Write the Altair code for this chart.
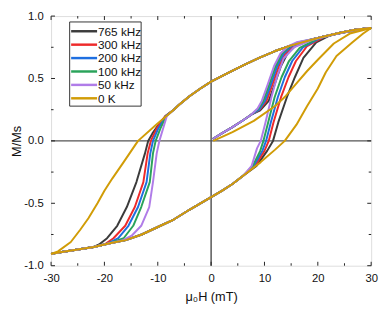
import altair as alt
import pandas as pd

SERIES = ["765 kHz", "300 kHz", "200 kHz", "100 kHz", "50 kHz", "0 K"]
COLORS = ["#3b3b3b", "#ee2a2a", "#1f6fe0", "#2aa35a", "#b07ce8", "#d19c06"]

# shared parts of the loop (mu0H in mT, M/Ms)
DESC_TOP_H = [30, 27, 24, 21, 18, 15, 12, 9, 6, 3, 0, -2, -4, -6, -7]
DESC_TOP_M = [0.905, 0.89, 0.865, 0.835, 0.80, 0.765, 0.72, 0.665, 0.605, 0.54, 0.475, 0.42, 0.36, 0.29, 0.25]
DESC_TAIL_H = [-22, -25, -28, -30]
DESC_TAIL_M = [-0.85, -0.87, -0.89, -0.905]
ASC_BOT_H = [-30, -28, -25, -22, -19, -16, -13, -10, -7, -4, -2, 0, 2, 4, 6]
ASC_BOT_M = [-0.905, -0.89, -0.87, -0.85, -0.82, -0.795, -0.75, -0.69, -0.63, -0.55, -0.50, -0.45, -0.40, -0.345, -0.28]
ASC_TAIL_H = [24, 27, 30]
ASC_TAIL_M = [0.865, 0.89, 0.905]
VIR_START_H = [0.3, 2, 4, 6, 7.5]
VIR_START_M = [0.015, 0.06, 0.11, 0.165, 0.21]
VIR_TAIL_H = [19, 22, 25, 28, 30]
VIR_TAIL_M = [0.815, 0.845, 0.87, 0.895, 0.905]

# series-specific steep parts
DESC_STEEP = {
    "765 kHz": ([-8.5, -10, -11, -11.8, -12.4, -14, -15.8, -17.6, -19.5, -21], [0.2, 0.12, 0.06, 0, -0.1, -0.33, -0.53, -0.68, -0.78, -0.83]),
    "300 kHz": ([-8.6, -10.2, -11.3, -11.9, -12.7, -14.3, -16.1, -18.3, -20], [0.2, 0.1, 0, -0.1, -0.33, -0.53, -0.68, -0.78, -0.83]),
    "200 kHz": ([-8.5, -9.9, -10.9, -11.4, -12.1, -13.7, -15.5, -17.4, -19.5], [0.2, 0.1, 0, -0.1, -0.33, -0.53, -0.68, -0.78, -0.825]),
    "100 kHz": ([-8.4, -9.5, -10.4, -10.9, -11.5, -13.1, -14.6, -16.4, -19], [0.2, 0.1, 0, -0.1, -0.33, -0.53, -0.68, -0.78, -0.82]),
    "50 kHz": ([-8.3, -9.0, -9.7, -10.2, -10.9, -11.6, -13.1, -14.9, -16.5, -19], [0.2, 0.1, 0, -0.1, -0.33, -0.53, -0.68, -0.76, -0.795, -0.82]),
}
ASC_STEEP = {
    "765 kHz": ([8.5, 10.5, 11.6, 12.6, 14.2, 15.7, 17.3, 19.7, 22], [-0.2, -0.08, 0, 0.15, 0.35, 0.51, 0.665, 0.79, 0.84]),
    "300 kHz": ([8.2, 10, 10.8, 11.7, 13.1, 14.5, 15.9, 18, 21], [-0.2, -0.08, 0, 0.15, 0.35, 0.51, 0.64, 0.76, 0.83]),
    "200 kHz": ([8, 9.6, 10.3, 11.2, 12.5, 13.8, 15.2, 17.2, 20.5], [-0.2, -0.08, 0, 0.15, 0.35, 0.51, 0.64, 0.75, 0.825]),
    "100 kHz": ([7.8, 9.2, 9.8, 10.7, 11.9, 13.2, 14.6, 16.6, 20], [-0.2, -0.08, 0, 0.15, 0.35, 0.51, 0.64, 0.745, 0.82]),
    "50 kHz": ([7.6, 8.6, 9.3, 10.2, 11.3, 12.4, 13.6, 15.5, 19], [-0.2, -0.06, 0, 0.15, 0.35, 0.52, 0.66, 0.75, 0.81]),
}
VIR_STEEP = {
    "765 kHz": ([9.2, 10.8, 11.8, 13.1, 14.3, 15.8, 17.6], [0.245, 0.32, 0.44, 0.6, 0.7, 0.76, 0.79]),
    "300 kHz": ([9.1, 10.4, 11.4, 12.7, 13.9, 15.4, 17.2], [0.25, 0.32, 0.44, 0.6, 0.7, 0.76, 0.79]),
    "200 kHz": ([9.0, 10.1, 11.1, 12.4, 13.6, 15.1, 16.8], [0.25, 0.32, 0.44, 0.6, 0.7, 0.76, 0.79]),
    "100 kHz": ([8.9, 9.8, 10.8, 12.1, 13.3, 14.8, 16.4], [0.26, 0.32, 0.44, 0.6, 0.7, 0.76, 0.79]),
    "50 kHz": ([8.7, 9.5, 10.5, 11.8, 13.0, 14.5, 16.0], [0.26, 0.32, 0.44, 0.6, 0.7, 0.76, 0.79]),
}

# 0 K curve
GOLD_VIR_H = [0.4, 4, 8, 12, 14, 16, 18, 20, 23, 26, 30]
GOLD_VIR_M = [0.0, 0.07, 0.16, 0.28, 0.36, 0.46, 0.56, 0.65, 0.78, 0.86, 0.905]
GOLD_DESC_H = [-10.3, -13.7, -16.4, -18.5, -20, -21.3, -23, -24.5, -26.3, -28.7, -30]
GOLD_DESC_M = [0.13, 0.0, -0.17, -0.3, -0.4, -0.5, -0.62, -0.71, -0.81, -0.885, -0.905]
GOLD_ASC_H = [9.3, 12, 13.8, 16, 18, 20, 21.5, 23.5, 26.5, 28.5, 30]
GOLD_ASC_M = [-0.17, -0.07, 0.0, 0.13, 0.28, 0.42, 0.55, 0.68, 0.79, 0.86, 0.905]

X_MAJOR = [-30, -20, -10, 0, 10, 20, 30]
X_MINOR = [-25, -15, -5, 5, 15, 25]
Y_MAJOR = [-1.0, -0.5, 0.0, 0.5, 1.0]
Y_MINOR = [-0.75, -0.25, 0.25, 0.75]

rows = []


def add(series, branch, hs, ms):
    for h, m in zip(hs, ms):
        rows.append({"series": series, "branch": series + "|" + branch, "i": len(rows), "H": h, "M": m})


for s in SERIES[:5]:
    add(s, "virgin", VIR_START_H + VIR_STEEP[s][0] + VIR_TAIL_H, VIR_START_M + VIR_STEEP[s][1] + VIR_TAIL_M)
    add(s, "desc", DESC_TOP_H + DESC_STEEP[s][0] + DESC_TAIL_H, DESC_TOP_M + DESC_STEEP[s][1] + DESC_TAIL_M)
    add(s, "asc", ASC_BOT_H + ASC_STEEP[s][0] + ASC_TAIL_H, ASC_BOT_M + ASC_STEEP[s][1] + ASC_TAIL_M)
add("0 K", "virgin", GOLD_VIR_H, GOLD_VIR_M)
add("0 K", "desc", DESC_TOP_H + GOLD_DESC_H, DESC_TOP_M + GOLD_DESC_M)
add("0 K", "asc", ASC_BOT_H + GOLD_ASC_H, ASC_BOT_M + GOLD_ASC_M)
df = pd.DataFrame(rows)

W, H = 327, 255
FONT = "Liberation Sans"

xs = alt.Scale(domain=[-30, 30], nice=False, zero=False)
ys = alt.Scale(domain=[-1, 1], nice=False, zero=False)

lines = alt.Chart(df).mark_line(strokeWidth=2, strokeJoin="round").encode(
    x=alt.X("H:Q", scale=xs, axis=alt.Axis(
        values=X_MAJOR, title="μ₀H (mT)", ticks=False, domain=False, grid=False, labelFlush=False,
        labelExpr="replace(format(datum.value, 'd'), '−', '-')",
        labelFontSize=11.5, labelPadding=7, labelColor="#111",
        titleFontSize=13, titleFontWeight="normal", titleColor="#111",
        titleY=36, titleBaseline="alphabetic")),
    y=alt.Y("M:Q", scale=ys, axis=alt.Axis(
        values=Y_MAJOR, title="M/Ms", ticks=False, domain=False, grid=False, labelFlush=False,
        labelExpr="replace(format(datum.value, '.1f'), '−', '-')",
        labelFontSize=11.5, labelPadding=8, labelColor="#111",
        titleFontSize=13, titleFontWeight="normal", titleColor="#111",
        titleX=-28, titleY=H / 2, titleAngle=-90, titleAlign="center", titleBaseline="bottom")),
    color=alt.Color("series:N", scale=alt.Scale(domain=SERIES, range=COLORS), legend=None),
    detail="branch:N",
    order="i:Q",
)

zero_v = alt.Chart(pd.DataFrame({"H": [0]})).mark_rule(color="#555", strokeWidth=1.5).encode(
    x=alt.X("H:Q", scale=xs))
zero_h = alt.Chart(pd.DataFrame({"M": [0]})).mark_rule(color="#555", strokeWidth=1.5).encode(
    y=alt.Y("M:Q", scale=ys))

tick_layers = []
for vals, ln in ((X_MAJOR, 4), (X_MINOR, 2.5)):
    d = pd.DataFrame({"H": vals})
    tick_layers.append(alt.Chart(d).mark_rule(color="#222", strokeWidth=1).encode(
        x=alt.X("H:Q", scale=xs), y=alt.value(H), y2=alt.value(H - ln)))
    tick_layers.append(alt.Chart(d).mark_rule(color="#222", strokeWidth=1).encode(
        x=alt.X("H:Q", scale=xs), y=alt.value(0), y2=alt.value(ln)))
for vals, ln in ((Y_MAJOR, 4), (Y_MINOR, 2.5)):
    d = pd.DataFrame({"M": vals})
    tick_layers.append(alt.Chart(d).mark_rule(color="#222", strokeWidth=1).encode(
        y=alt.Y("M:Q", scale=ys), x=alt.value(0), x2=alt.value(ln)))
    tick_layers.append(alt.Chart(d).mark_rule(color="#222", strokeWidth=1).encode(
        y=alt.Y("M:Q", scale=ys), x=alt.value(W), x2=alt.value(W - ln)))

# legend box drawn by hand (layout positions in pixels)
LEG_X0, LEG_X1, LEG_Y0, LEG_Y1 = 19, 92, 6, 92
LEG_ROW0, LEG_STEP = 15.5, 13.7
legend_layers = [
    alt.Chart(pd.DataFrame({"k": [0]})).mark_rect(fill="white", stroke="#333", strokeWidth=1).encode(
        x=alt.value(LEG_X0), x2=alt.value(LEG_X1), y=alt.value(LEG_Y0), y2=alt.value(LEG_Y1))
]
for k, (s, c) in enumerate(zip(SERIES, COLORS)):
    yy = LEG_ROW0 + k * LEG_STEP
    d = pd.DataFrame({"series": [s]})
    legend_layers.append(alt.Chart(d).mark_rule(color=c, strokeWidth=2.5).encode(
        x=alt.value(LEG_X0 + 1.5), x2=alt.value(LEG_X0 + 28), y=alt.value(yy)))
    legend_layers.append(alt.Chart(d).mark_text(align="left", baseline="middle", fontSize=12,
                                                font=FONT, color="#111").encode(
        x=alt.value(LEG_X0 + 29), y=alt.value(yy + 0.5), text="series:N"))

chart = alt.layer(zero_v, zero_h, lines, *tick_layers, *legend_layers).properties(
    width=W, height=H,
    autosize=alt.AutoSizeParams(type="none"),
    padding={"left": 44, "top": 5, "right": 8, "bottom": 42},
).configure_view(stroke="#222", strokeWidth=1.2).configure_axis(
    labelFont=FONT, titleFont=FONT
).configure(background="white")

chart.save("out.html", embed_options={"renderer": "svg", "actions": False})
